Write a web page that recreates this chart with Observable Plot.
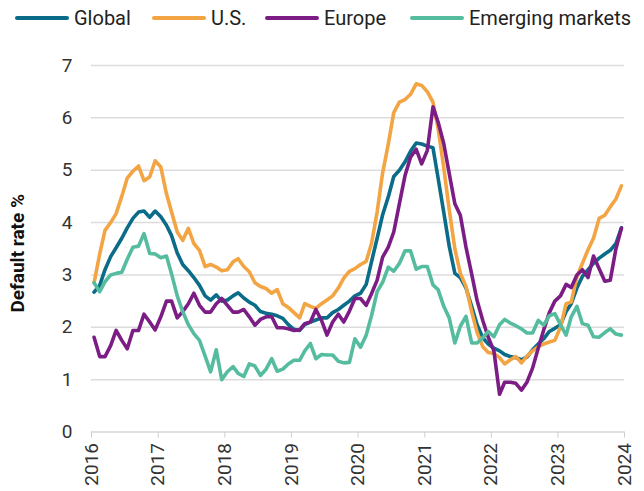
<!DOCTYPE html>
<html><head><meta charset="utf-8">
<script src="https://cdn.jsdelivr.net/npm/d3@7"></script>
<script src="https://cdn.jsdelivr.net/npm/@observablehq/plot@0.6"></script>
<style>
html,body{margin:0;padding:0;background:#fff;}
body{width:644px;height:491px;overflow:hidden;font-family:Roboto,"Liberation Sans",sans-serif;}
#legend{position:relative;height:40px;}
.item{position:absolute;top:6px;display:flex;align-items:center;font-size:20px;color:#222;white-space:nowrap;}
.sw{width:54px;height:4px;border-radius:2px;margin-right:5px;}
</style></head><body>
<div id="legend"></div>
<div id="chart"></div>
<script>
const seriesNames = ["Global", "U.S.", "Europe", "Emerging markets"];
const seriesColors = ["#0b6c89", "#f3a443", "#7b1d85", "#55bc9f"];
const yTicks = [0, 1, 2, 3, 4, 5, 6, 7];
const xTickYears = [2016, 2017, 2018, 2019, 2020, 2021, 2022, 2023, 2024];
const startYear = 2016;

const globalRate = [
 2.67, 2.8, 3.1, 3.35, 3.52, 3.7, 3.9, 4.08, 4.2, 4.22, 4.1, 4.22,
 4.11, 3.95, 3.75, 3.42, 3.2, 3.08, 2.95, 2.8, 2.6, 2.52, 2.62, 2.5,
 2.52, 2.6, 2.66, 2.56, 2.48, 2.42, 2.3, 2.27, 2.25, 2.22, 2.17, 2.05,
 1.96, 1.94, 2.05, 2.1, 2.14, 2.18, 2.18, 2.28, 2.34, 2.42, 2.5, 2.6,
 2.65, 2.82, 3.25, 3.7, 4.15, 4.49, 4.88, 5.0, 5.16, 5.36, 5.52, 5.5,
 5.46, 5.43, 4.85, 4.2, 3.55, 3.03, 2.95, 2.75, 2.4, 2.05, 1.8, 1.68,
 1.6, 1.55, 1.48, 1.44, 1.42, 1.38, 1.43, 1.57, 1.68, 1.78, 1.92, 1.98,
 2.05, 2.3, 2.45, 2.75, 2.97, 3.1, 3.22, 3.32, 3.4, 3.47, 3.6, 3.9];

const usRate = [
 2.85, 3.4, 3.85, 4.0, 4.17, 4.5, 4.85, 4.98, 5.08, 4.8, 4.87, 5.18,
 5.06, 4.55, 4.2, 3.82, 3.66, 3.89, 3.6, 3.47, 3.16, 3.2, 3.15, 3.08,
 3.1, 3.25, 3.31, 3.16, 3.06, 2.85, 2.78, 2.74, 2.65, 2.72, 2.45, 2.38,
 2.28, 2.18, 2.45, 2.4, 2.36, 2.45, 2.52, 2.6, 2.75, 2.94, 3.07, 3.12,
 3.2, 3.26, 3.6, 4.2, 4.95, 5.5, 6.1, 6.3, 6.35, 6.45, 6.65, 6.62,
 6.5, 6.3, 5.8, 5.05, 4.25, 3.5, 3.03, 2.78, 2.3, 1.9, 1.63, 1.52,
 1.5, 1.42, 1.3, 1.38, 1.44, 1.32, 1.45, 1.55, 1.63, 1.68, 1.72, 1.75,
 2.0, 2.45, 2.48, 2.96, 3.22, 3.48, 3.7, 4.08, 4.14, 4.3, 4.45, 4.7];

const europeRate = [
 1.81, 1.44, 1.44, 1.65, 1.94, 1.75, 1.59, 1.94, 1.94, 2.25, 2.1, 1.95,
 2.2, 2.5, 2.5, 2.18, 2.3, 2.45, 2.65, 2.42, 2.29, 2.29, 2.45, 2.55,
 2.42, 2.29, 2.29, 2.34, 2.2, 2.04, 2.15, 2.2, 2.2, 1.99, 1.99, 1.97,
 1.94, 1.95, 2.07, 2.1, 2.34, 2.13, 1.85, 2.1, 2.25, 2.1, 2.31, 2.55,
 2.55, 2.42, 2.64, 2.9, 3.34, 3.53, 3.82, 4.36, 4.9, 5.25, 5.4, 5.12,
 5.38, 6.21, 5.92, 5.51, 4.94, 4.36, 4.14, 3.53, 3.02, 2.51, 2.13, 1.81,
 1.55, 0.72, 0.95, 0.95, 0.93, 0.8, 0.95, 1.22, 1.6, 1.95, 2.28, 2.5,
 2.6, 2.82, 2.76, 3.0, 3.1, 2.95, 3.36, 3.12, 2.88, 2.9, 3.5, 3.89];

const emRate = [
 2.85, 2.68, 2.87, 3.0, 3.03, 3.05, 3.3, 3.53, 3.55, 3.79, 3.41, 3.4,
 3.33, 3.36, 3.02, 2.6, 2.3, 2.05, 1.88, 1.75, 1.45, 1.15, 1.57, 1.0,
 1.15, 1.25, 1.12, 1.06, 1.3, 1.26, 1.08, 1.2, 1.4, 1.16, 1.2, 1.3,
 1.37, 1.37, 1.55, 1.69, 1.4, 1.48, 1.47, 1.47, 1.35, 1.32, 1.33, 1.78,
 1.62, 1.85, 2.22, 2.68, 2.86, 3.15, 3.07, 3.22, 3.46, 3.46, 3.11, 3.16,
 3.16, 2.81, 2.72, 2.4, 2.18, 1.7, 2.02, 2.21, 1.7, 1.7, 1.8, 1.92,
 1.82, 2.05, 2.15, 2.08, 2.03, 1.97, 1.89, 1.89, 2.13, 2.04, 2.22, 2.26,
 2.05, 1.85, 2.2, 2.4, 2.07, 2.04, 1.82, 1.81, 1.9, 1.97, 1.87, 1.85];

const seriesValues = [globalRate, usRate, europeRate, emRate];

// Legend
const legendLefts = [15, 152, 265, 410];
const legend = document.getElementById("legend");
seriesNames.forEach((name, i) => {
  const it = document.createElement("div");
  it.className = "item";
  it.style.left = legendLefts[i] + "px";
  const sw = document.createElement("span");
  sw.className = "sw";
  sw.style.background = seriesColors[i];
  const tx = document.createElement("span");
  tx.textContent = name;
  it.appendChild(sw); it.appendChild(tx);
  legend.appendChild(it);
});

// Table
const rows = [];
seriesNames.forEach((name, s) => {
  seriesValues[s].forEach((v, k) => {
    rows.push({series: name, date: new Date(Date.UTC(startYear, k, 15)), value: v});
  });
});

const xTicks = xTickYears.map(y => new Date(Date.UTC(y, 0, 1)));

const chart = Plot.plot({
  width: 644,
  height: 451,
  marginTop: 25,
  marginBottom: 59.5,
  marginLeft: 91,
  marginRight: 20,
  style: {fontFamily: "Roboto, 'Liberation Sans', sans-serif", fontSize: "19px", color: "#333", background: "#fff", overflow: "visible"},
  x: {type: "utc", domain: [xTicks[0], xTicks[xTicks.length - 1]]},
  y: {domain: [0, 7]},
  color: {domain: seriesNames, range: seriesColors},
  marks: [
    Plot.ruleY(yTicks.filter(d => d > 0), {stroke: "#dcdcdc", strokeWidth: 1.5}),
    Plot.ruleY([0], {stroke: "#d6d6d6", strokeWidth: 1.5}),
    Plot.axisY({ticks: yTicks, tickSize: 0, tickPadding: 19, label: null, tickFormat: d => String(d)}),
    Plot.axisX({ticks: xTicks, tickFormat: d3.utcFormat("%Y"), tickRotate: -90, tickSize: 6, tickPadding: 5, stroke: "#cfcfcf", label: null}),
    Plot.lineY(rows, {x: "date", y: "value", z: "series", stroke: "series", strokeWidth: 3.6})
  ]
});
document.getElementById("chart").appendChild(chart);

// Y axis title
d3.select(chart).append("text")
  .attr("transform", "translate(24," + (25 + (391.5 - 25) / 2 + 5) + ") rotate(-90)")
  .attr("text-anchor", "middle")
  .attr("font-weight", "bold")
  .attr("font-size", "19px")
  .attr("fill", "#111")
  .text("Default rate %");
</script>
</body></html>
